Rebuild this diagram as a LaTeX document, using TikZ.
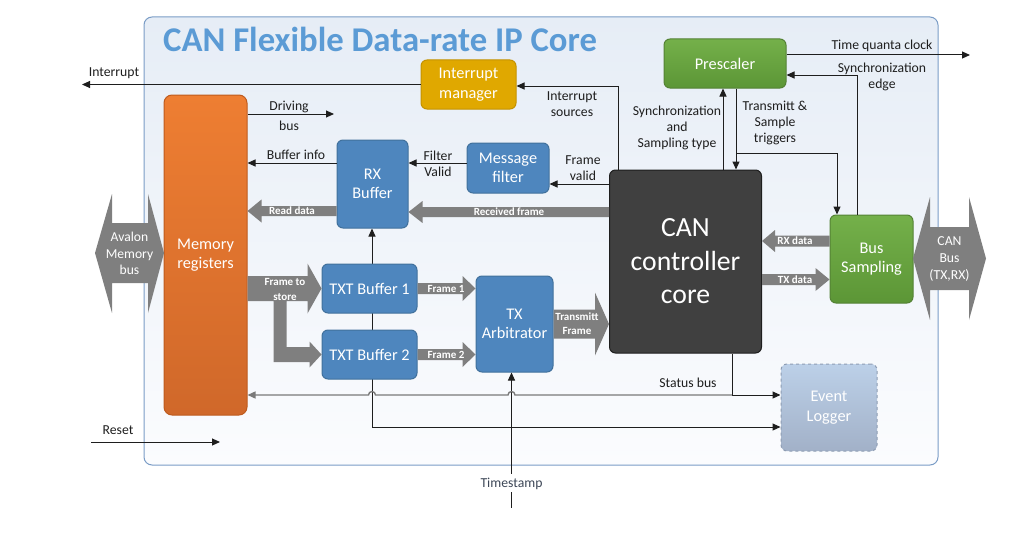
\documentclass[tikz,border=0pt]{standalone}
\usepackage{fontspec}
\setmainfont{Carlito}
\usetikzlibrary{arrows.meta,calc,backgrounds}
\definecolor{fatgray}{HTML}{7F7F7F}
\definecolor{linec}{HTML}{1E1E1E}
\definecolor{statc}{HTML}{7A7A7A}
\definecolor{bluef}{HTML}{4E86BE}
\definecolor{bluel}{HTML}{41719C}
\definecolor{goldf}{HTML}{E0A800}
\definecolor{goldl}{HTML}{C49200}
\definecolor{greent}{HTML}{74B04A}
\definecolor{greenb}{HTML}{5C9636}
\definecolor{greenl}{HTML}{548235}
\definecolor{coref}{HTML}{404040}
\definecolor{orat}{HTML}{EE7E32}
\definecolor{orab}{HTML}{D0682A}
\definecolor{oral}{HTML}{BE5B1E}
\definecolor{evt}{HTML}{BCD0E8}
\definecolor{evb}{HTML}{A2B1C8}
\definecolor{evl}{HTML}{8E9DB3}
\definecolor{pant}{HTML}{E6EDF6}
\definecolor{panb}{HTML}{FBFCFE}
\definecolor{panl}{HTML}{7A9CC6}
\definecolor{titlec}{HTML}{5B9BD5}
\definecolor{tsc}{HTML}{3C4656}
\newcommand\fatarrow[5]{%
  \fill[fatgray] let \p1=(#1), \p2=(#2), \n1={(\x2>\x1)*2-1} in
   (\x1,\y1+#3) -- (\x2-\n1*#5,\y1+#3) -- (\x2-\n1*#5,\y1+#4) -- (\x2,\y1)
   -- (\x2-\n1*#5,\y1-#4) -- (\x2-\n1*#5,\y1-#3) -- (\x1,\y1-#3) -- cycle;}
\begin{document}
\begin{tikzpicture}[x=1pt,y=-1pt,
  lbl/.style={font=\fontsize{13.7}{16}\selectfont, text=linec, align=center, inner sep=0pt},
  boxlbl/.style={font=\fontsize{16.3}{19.6}\selectfont, text=white, align=center},
  fatlbl/.style={font=\fontsize{11}{13}\selectfont\bfseries, text=white, align=center, inner sep=0pt},
  basebox/.style={rounded corners=6pt, line width=1pt, boxlbl, inner sep=0pt},
  bluebox/.style={basebox, fill=bluef, draw=bluel},
  arr/.style={draw=linec, line width=1pt, -{Triangle[length=8pt,width=7pt]}},
  plain/.style={draw=linec, line width=1pt},
  statarr/.style={draw=statc, line width=1.4pt, -{Triangle[length=8pt,width=7pt]}}]
\useasboundingbox (0,0) rectangle (1030,535);
\begin{pgfonlayer}{background}
\shade[top color=pant, bottom color=panb, draw=panl, line width=1pt, rounded corners=8pt]
  (144,17) rectangle (938,465);
\end{pgfonlayer}
\node[anchor=base west, inner sep=0pt, text=titlec, font=\fontsize{34.7}{40}\selectfont\bfseries] (title) at (163,52) {CAN Flexible Data-rate IP Core};

% boxes
\node[basebox, fill=goldf, draw=goldl, minimum width=95pt, minimum height=49pt] (im) at (468.5,84.5) {Interrupt\\manager};
\node[basebox, top color=greent, bottom color=greenb, draw=greenl, minimum width=122pt, minimum height=49pt] (pre) at (725,63.5) {Prescaler};
\node[basebox, rounded corners=8pt, top color=orat, bottom color=orab, draw=oral, minimum width=83pt, minimum height=320pt] (mem) at (205.5,255) {Memory\\registers};
\node[bluebox, minimum width=71pt, minimum height=88pt] (rx) at (372.5,184) {RX\\Buffer};
\node[bluebox, minimum width=82pt, minimum height=50pt] (mf) at (508,168) {Message\\filter};
\node[basebox, fill=coref, draw=linec, minimum width=152pt, minimum height=183pt, font=\fontsize{27.7}{33.5}\selectfont] (core) at (685.5,261.5) {CAN\\controller\\core};
\node[basebox, top color=greent, bottom color=greenb, draw=greenl, minimum width=83pt, minimum height=88pt] (bs) at (871.5,259) {Bus\\Sampling};
\node[bluebox, minimum width=95pt, minimum height=49pt] (txt1) at (369.5,288.5) {TXT Buffer 1};
\node[bluebox, minimum width=95pt, minimum height=49pt] (txt2) at (369.5,354.5) {TXT Buffer 2};
\node[bluebox, minimum width=77pt, minimum height=96pt] (txa) at (514.5,324) {TX\\Arbitrator};
\node[basebox, top color=evt, bottom color=evb, draw=evl, dashed, text=white, minimum width=96pt, minimum height=87pt] (ev) at (829,407.5) {Event\\Logger};

% double arrows (buses)
\fill[fatgray] (95,253) -- (112,194) -- (112,223) -- (148,223) -- (148,194) -- (164,253)
  -- (148,313) -- (148,283) -- (112,283) -- (112,313) -- cycle;
\node[font=\fontsize{13.6}{16.5}\selectfont, text=white, align=center, inner sep=0pt] (avalon) at (129.5,253.5) {Avalon\\Memory\\bus};
\fill[fatgray] (913,258.5) -- (930,197) -- (930,227) -- (969,227) -- (969,197) -- (986,258.5)
  -- (969,320) -- (969,290) -- (930,290) -- (930,320) -- cycle;
\node[font=\fontsize{13.7}{17}\selectfont, text=white, align=center, inner sep=0pt] (canbus) at (949.5,259) {CAN\\Bus\\(TX,RX)};

% fat arrows
\coordinate (yRD) at (300,211);
\coordinate (yRF) at (500,212);
\coordinate (yTF) at (580,324);
\coordinate (yRX) at (795,241);
\coordinate (yTX) at (795,279.5);
\fatarrow{rx.west |- yRD}{mem.east |- yRD}{5pt}{11.5pt}{14pt}
\node[fatlbl] (lRD) at (292,211) {Read data};
\fatarrow{core.west |- yRF}{rx.east |- yRF}{5pt}{11pt}{14pt}
\node[fatlbl] (lRF) at (509,212) {Received frame};
\fatarrow{txt1.east}{txa.west |- txt1.east}{5.5pt}{12.5pt}{13pt}
\node[fatlbl] (lF1) at (446,289) {Frame 1};
\fatarrow{txt2.east}{txa.west |- txt2.east}{5.5pt}{12.5pt}{13pt}
\node[fatlbl] (lF2) at (446,355) {Frame 2};
\fatarrow{txa.east |- yTF}{core.west |- yTF}{14.5pt}{31.5pt}{14pt}
\node[fatlbl, font=\fontsize{11}{14}\selectfont\bfseries] (lTF) at (577,324) {Transmitt\\Frame};
\fatarrow{bs.west |- yRX}{core.east |- yRX}{5.5pt}{11pt}{13pt}
\node[fatlbl] (lRX) at (795,241) {RX data};
\fatarrow{core.east |- yTX}{bs.west |- yTX}{5.5pt}{11.5pt}{14pt}
\node[fatlbl] (lTX) at (795,279.5) {TX data};
% frame to store (branching)
\fill[fatgray] let \p1=(mem.east), \p2=(txt1.west), \p3=(txt2.west) in
  (\x1,\y2+12.5pt) -- (\x2-14pt,\y2+12.5pt) -- (\x2-14pt,\y2+25pt) -- (\x2,\y2)
  -- (\x2-14pt,\y2-25pt) -- (\x2-14pt,\y2-12.5pt) -- (\x1+39pt,\y2-12.5pt)
  -- (\x1+39pt,\y3+7.5pt) -- (\x3-12pt,\y3+7.5pt) -- (\x3-12pt,\y3+13pt) -- (\x3,\y3)
  -- (\x3-12pt,\y3-13pt) -- (\x3-12pt,\y3-7.5pt) -- (\x1+26pt,\y3-7.5pt)
  -- (\x1+26pt,\y2-12.5pt) -- (\x1,\y2-12.5pt) -- cycle;
\node[fatlbl, font=\fontsize{11}{15}\selectfont\bfseries] (lFS) at (285,289.5) {Frame to\\store};

% thin connectors
\coordinate (cInt) at (82,84.5);
\draw[arr] (im.west) -- (cInt);
\node[lbl] (lInt) at (114,73) {Interrupt};

\coordinate (cDrv) at (334,114);
\draw[arr] (mem.east |- cDrv) -- (cDrv);
\node[lbl, font=\fontsize{13.7}{20}\selectfont] (lDrv) at (289,116) {Driving\\bus};

\coordinate (cBI) at (300,163);
\draw[arr] (rx.west |- cBI) -- (mem.east |- cBI);
\node[lbl] (lBI) at (296,155) {Buffer info};

\coordinate (cFV) at (440,163);
\draw[arr] (mf.west |- cFV) -- (rx.east |- cFV);
\node[lbl] (lFV) at (438,164) {Filter\\Valid};

\coordinate (cFRV) at (580,184);
\draw[arr] (core.west |- cFRV) -- (mf.east |- cFRV);
\node[lbl] (lFRV) at (583,168) {Frame\\valid};

\coordinate (cIS) at (618,86);
\draw[arr] (core.north -| cIS) -- (cIS) -- (im.east |- cIS);
\node[lbl] (lIS) at (572,104) {Interrupt\\sources};

\coordinate (cST) at (723,120);
\draw[arr] (core.north -| cST) -- (pre.south -| cST);
\node[lbl] (lST) at (677,128) {Synchronization\\and\\Sampling type};

\coordinate (cTR) at (736,153);
\coordinate (cTR2) at (837,153);
\draw[arr] (pre.south -| cTR) -- (core.north -| cTR);
\draw[arr] (cTR) -- (cTR2) -- (bs.north -| cTR2);
\node[lbl] (lTR) at (775,123) {Transmitt \&\\Sample\\triggers};

\coordinate (cTQ) at (970,55);
\draw[arr] (pre.east |- cTQ) -- (cTQ);
\node[lbl] (lTQ) at (882,46) {Time quanta clock};

\coordinate (cSE) at (857,75);
\draw[arr] (bs.north -| cSE) -- (cSE) -- (pre.east |- cSE);
\node[lbl] (lSE) at (882,76.5) {Synchronization\\edge};

% timestamp
\node[lbl, text=tsc] (ts) at (511.5,484) {Timestamp};
\coordinate (cTsEnd) at (511.5,508);
\draw[arr] ([yshift=4pt]ts.north) -- (txa.south -| ts.north);
\draw[plain] ([yshift=-2pt]ts.south) -- (cTsEnd);
\coordinate (cTJ) at (372,427);
\draw[arr] (cTJ) -- (ev.west |- cTJ);
\begin{pgfonlayer}{background}
\draw[arr] (cTJ) -- (rx.south -| cTJ);
\end{pgfonlayer}

% status bus
\coordinate (cSB) at (732,395);
\draw[plain] (core.south -| cSB) -- (cSB);
\draw[arr] (cSB) -- (ev.west |- cSB);
\draw[statarr] (cSB) -- ($(cSB -| ts.north)+(3.5,0)$) arc[start angle=0,end angle=180,radius=3.5pt]
  -- ($(cSB -| cTJ)+(3.5,0)$) arc[start angle=0,end angle=180,radius=3.5pt] -- (mem.east |- cSB);
\node[lbl] (lSB) at (688,383) {Status bus};

% reset
\coordinate (cR1) at (91,442);
\coordinate (cR2) at (220,442);
\draw[arr] (cR1) -- (cR2);
\node[lbl] (lR) at (118,430) {Reset};
\end{tikzpicture}
\end{document}
